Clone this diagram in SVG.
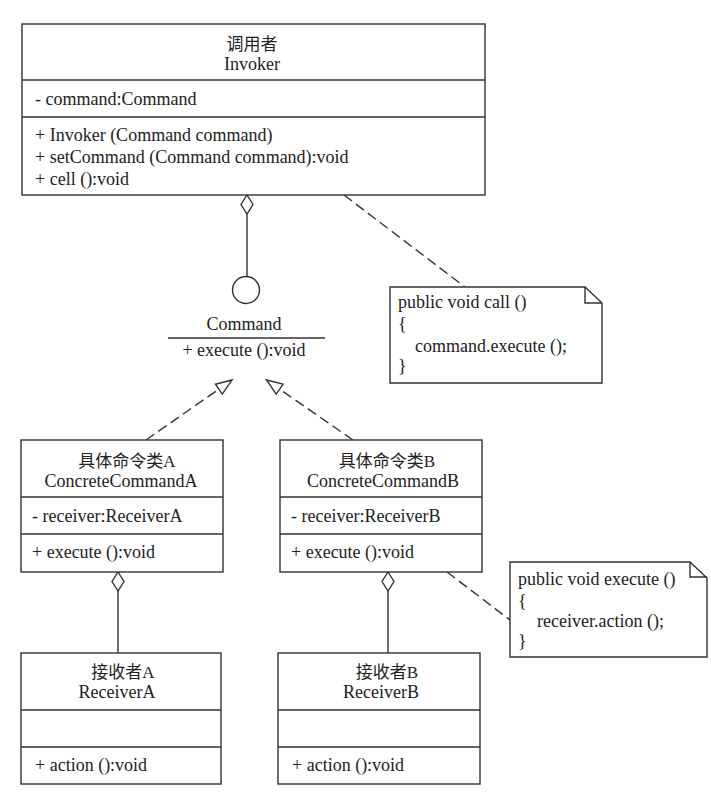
<svg xmlns="http://www.w3.org/2000/svg" width="711" height="795" viewBox="0 0 711 795">
<style>
.box{fill:#fff;stroke:#333;stroke-width:1.4}
.ln{stroke:#333;stroke-width:1.4;fill:none}
.dash{stroke-dasharray:10 5}
text{font-family:"Liberation Serif","Noto Sans CJK SC",serif;font-size:18px;fill:#222}
.c{text-anchor:middle}
.cjk{font-size:17px}
</style>
<defs>
<marker id="agg" viewBox="0 0 19 12" markerUnits="userSpaceOnUse" markerWidth="19" markerHeight="12" refX="0" refY="6" orient="auto" overflow="visible">
<path d="M0,6 L9.5,0 L19,6 L9.5,12 Z" fill="#fff" stroke="#333" stroke-width="1.4"/>
</marker>
<marker id="real" viewBox="0 0 16 12" markerUnits="userSpaceOnUse" markerWidth="16" markerHeight="12" refX="16" refY="6" orient="auto" overflow="visible">
<path d="M0,0 L16,6 L0,12 Z" fill="#fff" stroke="#333" stroke-width="1.4" stroke-dasharray="none"/>
</marker>
</defs>
<rect width="711" height="795" fill="#fff"/>

<g id="connectors">
<line class="ln" x1="247" y1="195" x2="247" y2="277" marker-start="url(#agg)"/>
<line class="ln dash" x1="146" y1="440" x2="232" y2="380" marker-end="url(#real)"/>
<line class="ln dash" x1="353" y1="440" x2="266.5" y2="380" marker-end="url(#real)"/>
<line class="ln" x1="118" y1="572" x2="118" y2="653" marker-start="url(#agg)"/>
<line class="ln" x1="388" y1="572" x2="388" y2="653" marker-start="url(#agg)"/>
<line class="ln dash" x1="344" y1="195" x2="465" y2="287"/>
<line class="ln dash" x1="447" y1="572" x2="510" y2="620"/>
</g>

<g id="invoker">
<rect class="box" x="22" y="24" width="463" height="171"/>
<line class="ln" x1="22" y1="80" x2="485" y2="80"/>
<line class="ln" x1="22" y1="117" x2="485" y2="117"/>
<text class="c cjk" x="252" y="50">调用者</text>
<text class="c" x="252" y="70">Invoker</text>
<text x="35" y="105">- command:Command</text>
<text x="35" y="141">+ Invoker (Command command)</text>
<text x="35" y="163">+ setCommand (Command command):void</text>
<text x="35" y="185">+ cell ():void</text>
</g>

<g id="command">
<circle class="box" cx="246" cy="290" r="13.5"/>
<text class="c" x="244" y="330">Command</text>
<line class="ln" x1="168" y1="338" x2="325" y2="338"/>
<text class="c" x="244" y="356">+ execute ():void</text>
</g>

<g id="note1">
<path class="box" d="M390,287 H585 L602,303 V383 H390 Z"/>
<path class="ln" d="M585,287 V303 H602"/>
<text x="398" y="308">public void call ()</text>
<text x="398" y="330">{</text>
<text x="415" y="352">command.execute ();</text>
<text x="398" y="372">}</text>
</g>

<g id="concreteA">
<rect class="box" x="21" y="440" width="202" height="132"/>
<line class="ln" x1="21" y1="497" x2="223" y2="497"/>
<line class="ln" x1="21" y1="534" x2="223" y2="534"/>
<text class="c cjk" x="127" y="467">具体命令类A</text>
<text class="c" x="121" y="487">ConcreteCommandA</text>
<text x="32" y="522">- receiver:ReceiverA</text>
<text x="32" y="558">+ execute ():void</text>
</g>

<g id="concreteB">
<rect class="box" x="280" y="440" width="202" height="132"/>
<line class="ln" x1="280" y1="497" x2="482" y2="497"/>
<line class="ln" x1="280" y1="534" x2="482" y2="534"/>
<text class="c cjk" x="387" y="467">具体命令类B</text>
<text class="c" x="383" y="487">ConcreteCommandB</text>
<text x="291" y="522">- receiver:ReceiverB</text>
<text x="291" y="558">+ execute ():void</text>
</g>

<g id="note2">
<path class="box" d="M510,562 H690 L707,578 V657 H510 Z"/>
<path class="ln" d="M690,562 V577 H707"/>
<text x="518" y="585">public void execute ()</text>
<text x="518" y="607">{</text>
<text x="537" y="627">receiver.action ();</text>
<text x="518" y="647">}</text>
</g>

<g id="receiverA">
<rect class="box" x="21" y="653" width="200" height="131"/>
<line class="ln" x1="21" y1="710" x2="221" y2="710"/>
<line class="ln" x1="21" y1="747" x2="221" y2="747"/>
<text class="c cjk" x="123" y="678">接收者A</text>
<text class="c" x="117" y="698">ReceiverA</text>
<text x="35" y="771">+ action ():void</text>
</g>

<g id="receiverB">
<rect class="box" x="278" y="653" width="202" height="131"/>
<line class="ln" x1="278" y1="710" x2="480" y2="710"/>
<line class="ln" x1="278" y1="747" x2="480" y2="747"/>
<text class="c cjk" x="387" y="678">接收者B</text>
<text class="c" x="381" y="698">ReceiverB</text>
<text x="292" y="771">+ action ():void</text>
</g>
</svg>
